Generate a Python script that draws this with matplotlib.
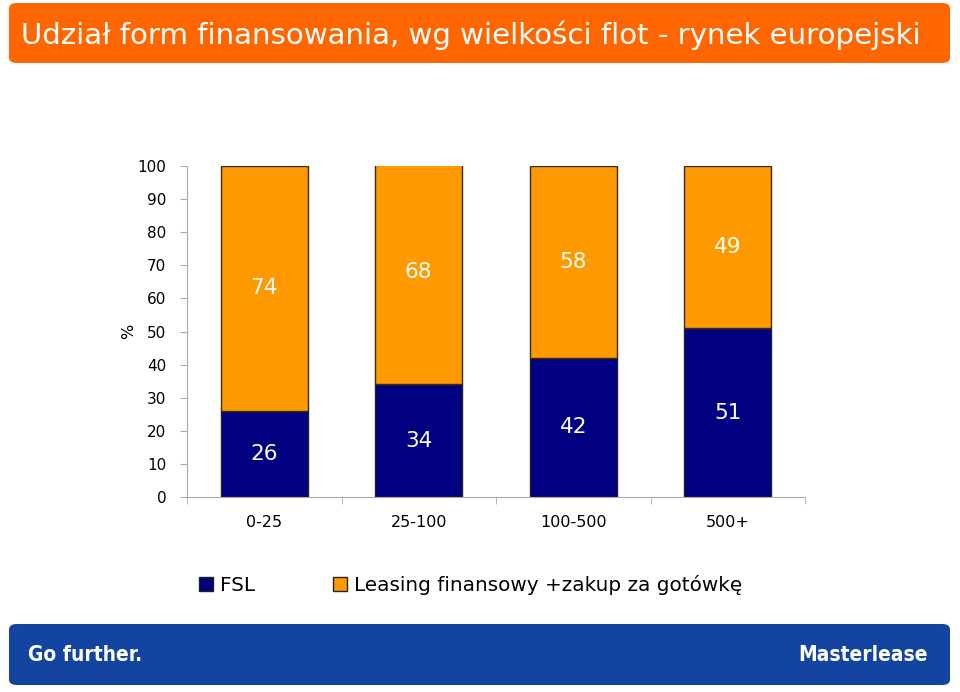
import numpy as np
import matplotlib
matplotlib.use('Agg')
from matplotlib import pyplot as plt
from matplotlib.patches import FancyBboxPatch, Patch

# data
categories = ['0-25', '25-100', '100-500', '500+']
fsl = [26, 34, 42, 51]
leasing = [74, 68, 58, 49]
series_names = ['FSL', 'Leasing finansowy +zakup za gotówkę']

navy = '#000080'
orange = '#FF9900'

fig = plt.figure(figsize=(9.6, 6.92), dpi=100)

# title band
fig.patches.append(FancyBboxPatch((9/960, 1-63/692), 941/960, 60/692,
                                  boxstyle='round,pad=0,rounding_size=0.008',
                                  transform=fig.transFigure, facecolor='#FF6600',
                                  edgecolor='none'))
fig.text(21/960, 1-35/692, 'Udział form finansowania, wg wielkości flot - rynek europejski',
         color='white', fontsize=21.1, va='center', ha='left')

# footer band
fig.patches.append(FancyBboxPatch((9/960, 1-685/692), 941/960, 61/692,
                                  boxstyle='round,pad=0,rounding_size=0.008',
                                  transform=fig.transFigure, facecolor='#1244A0',
                                  edgecolor='none'))
fig.text(28/960, 1-655/692, 'Go further.', color='white', fontsize=15,
         fontweight='bold', fontstretch='condensed', va='center', ha='left')
fig.text(928/960, 1-655/692, 'Masterlease', color='white', fontsize=15,
         fontweight='bold', fontstretch='condensed', va='center', ha='right')

ax = fig.add_axes([187/960, 1-497/692, 618/960, 331/692])
x = np.arange(len(categories))
w = 0.56
ax.bar(x, fsl, w, color=navy, edgecolor='#222222', linewidth=1)
ax.bar(x, leasing, w, bottom=fsl, color=orange, edgecolor='#3a2a10', linewidth=1)

for i in range(len(categories)):
    ax.text(x[i], fsl[i]/2, str(fsl[i]), color='white', fontsize=15.5,
            ha='center', va='center')
    ax.text(x[i], fsl[i] + leasing[i]/2, str(leasing[i]), color='white',
            fontsize=15.5, ha='center', va='center')

ax.set_xlim(-0.5, 3.5)
ax.set_ylim(0, 100)
ax.set_yticks(np.arange(0, 101, 10))
ax.set_xticks(x)
ax.set_xticklabels(categories, fontsize=11.5)
ax.set_xticks(np.arange(-0.5, 3.6, 1), minor=True)
ax.tick_params(axis='x', which='major', length=0, pad=13)
ax.tick_params(axis='x', which='minor', length=5, color='#aaaaaa')
ax.tick_params(axis='y', length=5, color='#aaaaaa', labelsize=11, pad=10)
for s in ['top', 'right']:
    ax.spines[s].set_visible(False)
for s in ['left', 'bottom']:
    ax.spines[s].set_color('#aaaaaa')
ax.set_ylabel('%', fontsize=11.5, labelpad=1)

handles = [Patch(facecolor=navy, edgecolor='#222222'),
           Patch(facecolor=orange, edgecolor='#222222')]
fig.legend(handles, series_names, loc='center left',
           bbox_to_anchor=(181/960, 1-585/692), ncol=2, frameon=False,
           fontsize=14.4, handlelength=0.7, handleheight=0.7,
           handletextpad=0.35, columnspacing=3.9)

fig.savefig('out.png', dpi=100)
